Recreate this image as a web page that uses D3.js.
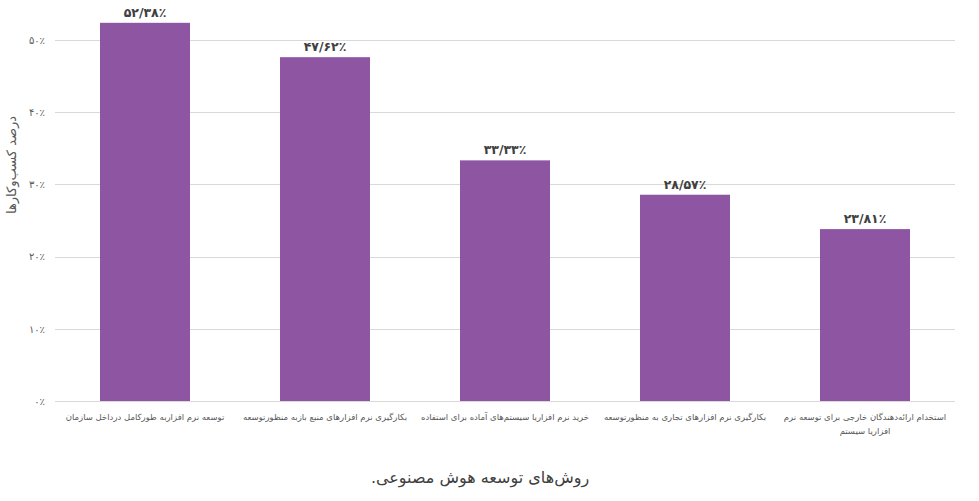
<!DOCTYPE html>
<html>
<head>
<meta charset="utf-8">
<script src="https://cdn.jsdelivr.net/npm/d3@7"></script>
<style>
  body { margin: 0; background: #fff; }
  text { font-family: "DejaVu Sans", sans-serif; }
</style>
</head>
<body>
<div id="wrapper"></div>
<script>
const categories = [
    "توسعه نرم افزاربه طورکامل درداخل سازمان",
    "بکارگیری نرم افزارهای منبع بازبه منظورتوسعه",
    "خرید نرم افزاریا سیستم‌های آماده برای استفاده",
    "بکارگیری نرم افزارهای تجاری به منظورتوسعه",
    "استخدام ارائه‌دهندگان خارجی برای توسعه نرم\nافزاریا سیستم"
];
const values = [52.38, 47.62, 33.33, 28.57, 23.81];
const yTicks = [0, 10, 20, 30, 40, 50];
const yTitle = "درصد کسب‌وکارها";
const xTitle = "روش‌های توسعه هوش مصنوعی.";

// تبدیل ارقام به فارسی
const faDigits = "۰۱۲۳۴۵۶۷۸۹";
const toFa = (s) => String(s).replace(/[0-9]/g, (c) => faDigits[+c]);
const valueFormat = (v) => toFa(d3.format(".2f")(v).replace(".", "/")) + "٪";
const tickFormat = (v) => toFa(v) + "٪";

const dimensions = {
    width: 979,
    height: 501,
    margin: { top: 40, right: 24, bottom: 100, left: 55 },
};
dimensions.boundedWidth = dimensions.width - dimensions.margin.left - dimensions.margin.right;
dimensions.boundedHeight = dimensions.height - dimensions.margin.top - dimensions.margin.bottom;

const wrapper = d3.select("#wrapper")
    .append("svg")
    .attr("width", dimensions.width)
    .attr("height", dimensions.height);

const bounds = wrapper.append("g")
    .attr("transform", `translate(${dimensions.margin.left},${dimensions.margin.top})`);

const yScale = d3.scaleLinear()
    .domain([0, 50])
    .range([dimensions.boundedHeight, 0]);

const xScale = d3.scaleBand()
    .domain(categories)
    .range([0, dimensions.boundedWidth])
    .paddingInner(0.5)
    .paddingOuter(0.25);

// gridlines
bounds.append("g")
    .selectAll("line")
    .data(yTicks)
    .join("line")
    .attr("x1", 0)
    .attr("x2", dimensions.boundedWidth)
    .attr("y1", (d) => Math.round(yScale(d)) + 0.5)
    .attr("y2", (d) => Math.round(yScale(d)) + 0.5)
    .attr("stroke", "#d9d9d9")
    .attr("stroke-width", 1);

const yAxisGenerator = d3.axisLeft(yScale)
    .tickValues(yTicks)
    .tickFormat(tickFormat)
    .tickSize(0)
    .tickPadding(10);
const yAxis = bounds.append("g").call(yAxisGenerator);
yAxis.select(".domain").remove();
yAxis.selectAll("text")
    .style("font-size", "10px")
    .attr("fill", "#595959");

bounds.append("g")
    .selectAll("rect")
    .data(values)
    .join("rect")
    .attr("x", (d, i) => xScale(categories[i]))
    .attr("width", xScale.bandwidth())
    .attr("y", (d) => yScale(d))
    .attr("height", (d) => dimensions.boundedHeight - yScale(d))
    .attr("fill", "#8e55a2");

bounds.append("g")
    .selectAll("text")
    .data(values)
    .join("text")
    .attr("x", (d, i) => xScale(categories[i]) + xScale.bandwidth() / 2)
    .attr("y", (d) => yScale(d) - 6)
    .attr("text-anchor", "middle")
    .style("font-size", "12.5px")
    .style("font-weight", "bold")
    .attr("fill", "#404040")
    .text(valueFormat);

const xAxisGenerator = d3.axisBottom(xScale).tickSize(0).tickPadding(13);
const xAxis = bounds.append("g")
    .attr("transform", `translate(0,${dimensions.boundedHeight})`)
    .call(xAxisGenerator);
xAxis.select(".domain").remove();
xAxis.selectAll("text")
    .style("font-size", "8.5px")
    .attr("direction", "rtl")
    .attr("fill", "#595959")
    .each(function (d) {
        const text = d3.select(this);
        const y = text.attr("y");
        const dy = parseFloat(text.attr("dy"));
        text.text(null);
        d.split("\n").forEach((part, i) => {
            text.append("tspan")
                .attr("x", 0)
                .attr("y", y)
                .attr("dy", i * 1.6 + dy + "em")
                .text(part);
        });
    });

wrapper.append("text")
    .attr("transform", `translate(16,165) rotate(-90)`)
    .attr("text-anchor", "middle")
    .attr("direction", "rtl")
    .style("font-size", "13px")
    .attr("fill", "#595959")
    .text(yTitle);

wrapper.append("text")
    .attr("x", 480)
    .attr("y", 483)
    .attr("text-anchor", "middle")
    .attr("direction", "rtl")
    .style("font-size", "16px")
    .attr("fill", "#404040")
    .text(xTitle);
</script>
</body>
</html>
